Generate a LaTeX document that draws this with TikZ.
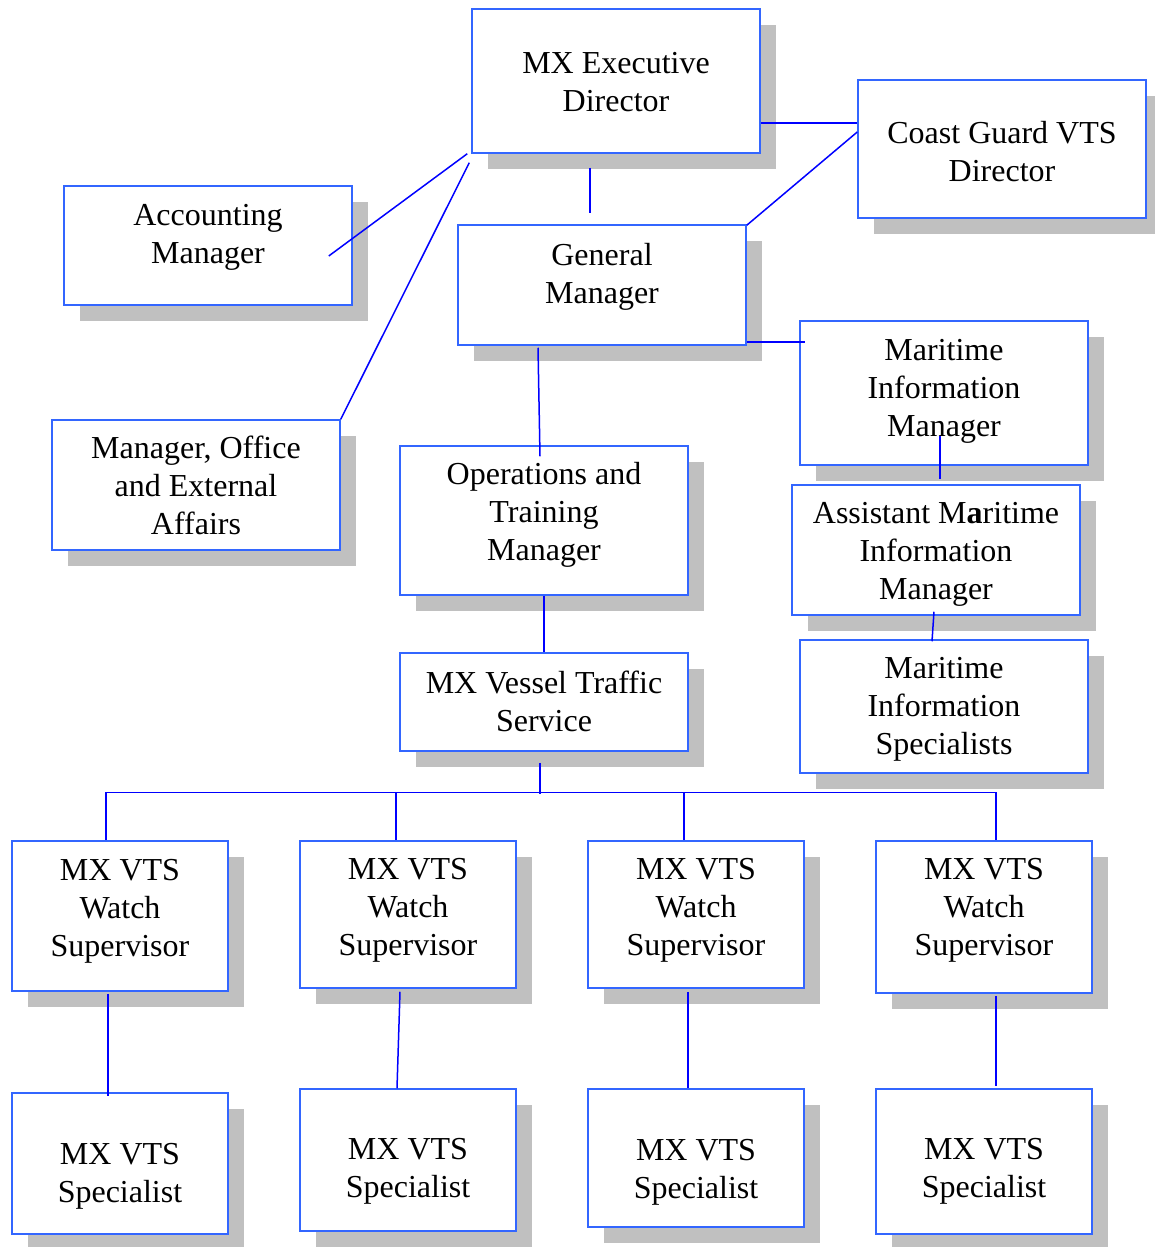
\documentclass[tikz,border=0pt]{standalone}
\usepackage{fontspec}
\setmainfont{Liberation Serif}
\usetikzlibrary{positioning,calc}
\definecolor{boxblue}{RGB}{51,102,255}
\definecolor{shadowgray}{RGB}{192,192,192}
\tikzset{
  post/.style={draw=boxblue, line width=1.5pt, fill=white, inner sep=0pt,
    preaction={fill=shadowgray, draw=none, transform canvas={shift={(16pt,-16pt)}}}},
  wide/.style={post, minimum width=288pt},
  narrow/.style={post, minimum width=216pt},
  txt/.style={align=center, inner sep=0pt, font=\fontsize{32}{38}\selectfont},
  link/.style={draw=blue, line width=1.5pt}
}
\begin{document}
\begin{tikzpicture}[x=1pt,y=-1pt]
\useasboundingbox (0,0) rectangle (1154,1247);
% upper boxes
\node[wide, minimum height=144pt, label={[txt,yshift=-1.5pt]center:{MX Executive\\Director}}] (exec) at (616,81) {};
\node[wide, minimum height=138pt, label={[txt,yshift=-3pt]center:{Coast Guard VTS\\Director}}] (cg) at (1002,149) {};
\node[wide, minimum height=119pt, label={[txt,yshift=8pt]center:{Accounting\\Manager}}] (acct) at (208,245.5) {};
\node[wide, minimum height=120pt, label={[txt,yshift=8.5pt]center:{General\\Manager}}] (gm) at (602,285) {};
\node[wide, minimum height=144pt, label={[txt,yshift=2pt]center:{Maritime\\Information\\Manager}}] (mim) at (944,393) {};
\node[wide, minimum height=130pt, label={[txt,yshift=-0.5pt]center:{Manager, Office\\and External\\Affairs}}] (office) at (196,485) {};
\node[wide, minimum height=149pt, label={[txt,yshift=5.5pt]center:{Operations and\\Training\\Manager}}] (ops) at (544,520.5) {};
\node[wide, minimum height=130pt, label={[txt,yshift=-4pt]center:{Assistant M\textbf{a}ritime\\Information\\Manager}}] (amim) at (936,550) {};
\node[wide, minimum height=98pt, label={[txt,yshift=0.5pt]center:{MX Vessel Traffic\\Service}}] (vts) at (544,702) {};
\node[wide, minimum height=133pt, label={[txt,yshift=-3pt]center:{Maritime\\Information\\Specialists}}] (mis) at (944,706.5) {};
% watch supervisors and specialists
\node[narrow, minimum height=150pt, label={[txt,yshift=5pt]center:{MX VTS\\Watch\\Supervisor}}] (ws1) at (120,916) {};
\node[narrow, minimum height=147pt, label={[txt,yshift=4pt]center:{MX VTS\\Watch\\Supervisor}}] (ws2) at (408,914.5) {};
\node[narrow, minimum height=147pt, label={[txt,yshift=4pt]center:{MX VTS\\Watch\\Supervisor}}] (ws3) at (696,914.5) {};
\node[narrow, minimum height=152pt, label={[txt,yshift=6.5pt]center:{MX VTS\\Watch\\Supervisor}}] (ws4) at (984,917) {};
\node[narrow, minimum height=141pt, label={[txt,yshift=-13pt]center:{MX VTS\\Specialist}}] (sp1) at (120,1163.5) {};
\node[narrow, minimum height=142pt, label={[txt,yshift=-11pt]center:{MX VTS\\Specialist}}] (sp2) at (408,1160) {};
\node[narrow, minimum height=138pt, label={[txt,yshift=-14pt]center:{MX VTS\\Specialist}}] (sp3) at (696,1158) {};
\node[narrow, minimum height=145pt, label={[txt,yshift=-10pt]center:{MX VTS\\Specialist}}] (sp4) at (984,1161.5) {};
% connectors
\draw[link] ([shift={(0,42)}]exec.east) coordinate (ec) -- (ec -| cg.west);
\draw[link] ([shift={(-26,14)}]exec.south) -- ([shift={(-12,-11)}]gm.north);
\draw[link] ([shift={(-4,0)}]exec.south west) -- ([shift={(-24,10.5)}]acct.east);
\draw[link] ([shift={(-2,9)}]exec.south west) -- (office.north east);
\draw[link] ([shift={(0,-17)}]cg.west) -- ([shift={(0,1)}]gm.north east);
\draw[link] ([shift={(0,-4)}]gm.south east) coordinate (gc) -- ([xshift=6pt]gc -| mim.west);
\draw[link] ([shift={(-64,2)}]gm.south) -- ([shift={(-4,11)}]ops.north);
\draw[link] ([shift={(-4,-30)}]mim.south) -- ([shift={(-4,-5)}]amim.north -| mim.south);
\draw[link] ([shift={(-2,-4)}]amim.south) -- ([shift={(-12,2)}]mis.north);
\draw[link] (ops.south) -- (vts.north);
\draw[link] ([shift={(-4,11)}]vts.south) -- ([shift={(-4,42)}]vts.south);
\draw[link] ([shift={(-14,-48)}]ws1.north) -- ([shift={(12,-48)}]ws4.north);
\draw[link] ([shift={(-14,-48)}]ws1.north) -- ([shift={(-14,0)}]ws1.north);
\draw[link] ([shift={(-12,-48)}]ws2.north) -- ([shift={(-12,0)}]ws2.north);
\draw[link] ([shift={(-12,-48)}]ws3.north) -- ([shift={(-12,0)}]ws3.north);
\draw[link] ([shift={(12,-48)}]ws4.north) -- ([shift={(12,0)}]ws4.north);
\draw[link] ([shift={(-12,2)}]ws1.south) -- ([shift={(-12,4)}]sp1.north);
\draw[link] ([shift={(-8,3)}]ws2.south) -- ([shift={(-11,0)}]sp2.north);
\draw[link] ([shift={(-8,3)}]ws3.south) -- ([shift={(-8,0)}]sp3.north);
\draw[link] ([shift={(12,2)}]ws4.south) -- ([shift={(12,-2)}]sp4.north);
\end{tikzpicture}
\end{document}
